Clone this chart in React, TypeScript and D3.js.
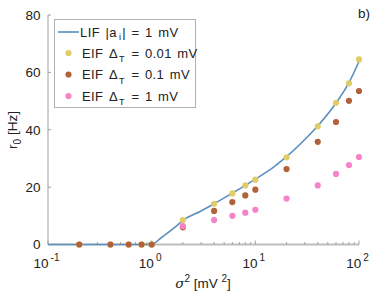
import React from "react";
import * as d3 from "d3";

const lifX = [0.1, 0.5, 1, 1.1, 1.2, 1.4, 1.7, 2, 3, 4, 6, 8, 10, 15, 20, 30, 40, 60, 80, 100];
const lifY = [0, 0, 0, 0.8, 2.0, 3.8, 6.2, 8.4, 11.7, 14.2, 17.9, 20.6, 22.8, 27.0, 30.6, 36.6, 41.3, 49.3, 56.4, 63.8];

const eifX = [0.2, 0.4, 0.6, 0.8, 1, 2, 4, 6, 8, 10, 20, 40, 60, 80, 100];
const eif001 = [0, 0, 0, 0, 0, 8.5, 14.2, 17.8, 20.6, 22.6, 30.4, 41.2, 49.4, 56.2, 64.5];
const eif01 = [0, 0, 0, 0, 0, 6.0, 11.7, 14.8, 17.1, 19.1, 26.3, 35.8, 42.7, 50.1, 53.5];
const eif1 = [0, 0, 0, 0, 0, 6.4, 8.5, 10.0, 11.1, 12.1, 16.0, 20.6, 24.6, 27.7, 30.5];

const yTicks = [0, 20, 40, 60, 80];
const xMajor = [0.1, 1, 10, 100];
const xExp = ["-1", "0", "1", "2"];

const C_BLUE = "#5b8fc0";
const C_YEL = "#e0cd68";
const C_BRN = "#b2623a";
const C_PNK = "#f683c8";
const AX = "#a0a0a0";
const FONT = "Liberation Sans, Arial, sans-serif";

export default function App() {
  const x = d3.scaleLog().domain([0.1, 100]).range([48, 359]);
  const y = d3.scaleLinear().domain([0, 80]).range([244.5, 15]);
  const line = d3
    .line<number>()
    .x((_, i) => x(lifX[i]))
    .y((d) => y(d))
    .curve(d3.curveMonotoneX);

  const minor: number[] = [];
  for (const dec of [0.1, 1, 10]) for (let k = 2; k <= 9; k++) minor.push(dec * k);

  const series = [
    { vals: eif001, color: C_YEL, skipZero: false },
    { vals: eif01, color: C_BRN, skipZero: false },
    { vals: eif1, color: C_PNK, skipZero: true },
  ];

  return (
    <svg width={374} height={292} style={{ position: "absolute", left: 0, top: 0, background: "#fff" }} fontFamily={FONT}>
      <rect width={374} height={292} fill="#fff" />
      {/* axes */}
      <line x1={48} x2={48} y1={y(80)} y2={y(0)} stroke={AX} strokeWidth={1} />
      <line x1={48} x2={359} y1={y(0)} y2={y(0)} stroke="#bdbdbd" strokeWidth={2} />
      {yTicks.map((t) => (
        <g key={t}>
          <line x1={48} x2={51} y1={y(t)} y2={y(t)} stroke={AX} />
          <text x={40.5} y={y(t)} dy="0.36em" textAnchor="end" fontSize={13.5} fill="#222">
            {t}
          </text>
        </g>
      ))}
      {xMajor.map((t) => (
        <line key={t} x1={x(t)} x2={x(t)} y1={y(0)} y2={y(0) - 4} stroke={AX} />
      ))}
      {minor.map((t) => (
        <line key={t} x1={x(t)} x2={x(t)} y1={y(0)} y2={y(0) - 2.5} stroke={AX} />
      ))}
      {xMajor.map((t, i) => (
        <text key={t} x={x(t) - 1.5} y={268} textAnchor="middle" fontSize={13.5} fill="#222">
          10
          <tspan dy={-7} dx={2} fontSize={10}>
            {xExp[i]}
          </tspan>
        </text>
      ))}
      {/* labels */}
      <text x={203} y={288} textAnchor="middle" fontSize={13.5} fill="#222">
        <tspan fontFamily="DejaVu Serif, serif" fontStyle="italic">σ</tspan>
        <tspan dy={-6} fontSize={10}>2</tspan>
        <tspan dy={6}> [mV </tspan>
        <tspan dy={-6} fontSize={10}>2</tspan>
        <tspan dy={6}>]</tspan>
      </text>
      <text transform={`translate(17,130) rotate(-90)`} textAnchor="middle" fontSize={13.5} fill="#222">
        r<tspan dy={4} fontSize={10}>0</tspan>
        <tspan dy={-4}> [Hz]</tspan>
      </text>
      <text x={358} y={18} fontSize={13.5} fill="#222">
        b)
      </text>
      {/* data */}
      <path d={line(lifY) || ""} fill="none" stroke={C_BLUE} strokeWidth={1.6} />
      {series.map((s, si) =>
        s.vals.map((v, i) =>
          s.skipZero && v === 0 ? null : (
            <circle key={si + "-" + i} cx={x(eifX[i])} cy={y(v)} r={3.1} fill={s.color} />
          )
        )
      )}
      {/* legend */}
      <rect x={54.5} y={19.5} width={141} height={88} fill="#fff" stroke="#b0b0b0" strokeWidth={1} />
      <line x1={58} x2={79} y1={32} y2={32} stroke={C_BLUE} strokeWidth={1.6} />
      <text x={80} y={36.5} fontSize={13} fill="#222" letterSpacing={0.4} wordSpacing={1.5}>
        LIF |a<tspan dy={3} dx={2} fontSize={9}>i</tspan>
        <tspan dy={-3} dx={1}>| = 1 mV</tspan>
      </text>
      {[
        { c: C_YEL, v: "0.01" },
        { c: C_BRN, v: "0.1" },
        { c: C_PNK, v: "1" },
      ].map((e, i) => (
        <g key={i}>
          <circle cx={68.5} cy={53 + i * 21.5} r={3.1} fill={e.c} />
          <text x={82} y={57.5 + i * 21.5} fontSize={13} fill="#222" letterSpacing={0.4} wordSpacing={1.5}>
            EIF Δ<tspan dy={4.5} dx={1} fontSize={9}>T</tspan>
            <tspan dy={-4.5} dx={1}> = {e.v} mV</tspan>
          </text>
        </g>
      ))}
    </svg>
  );
}
